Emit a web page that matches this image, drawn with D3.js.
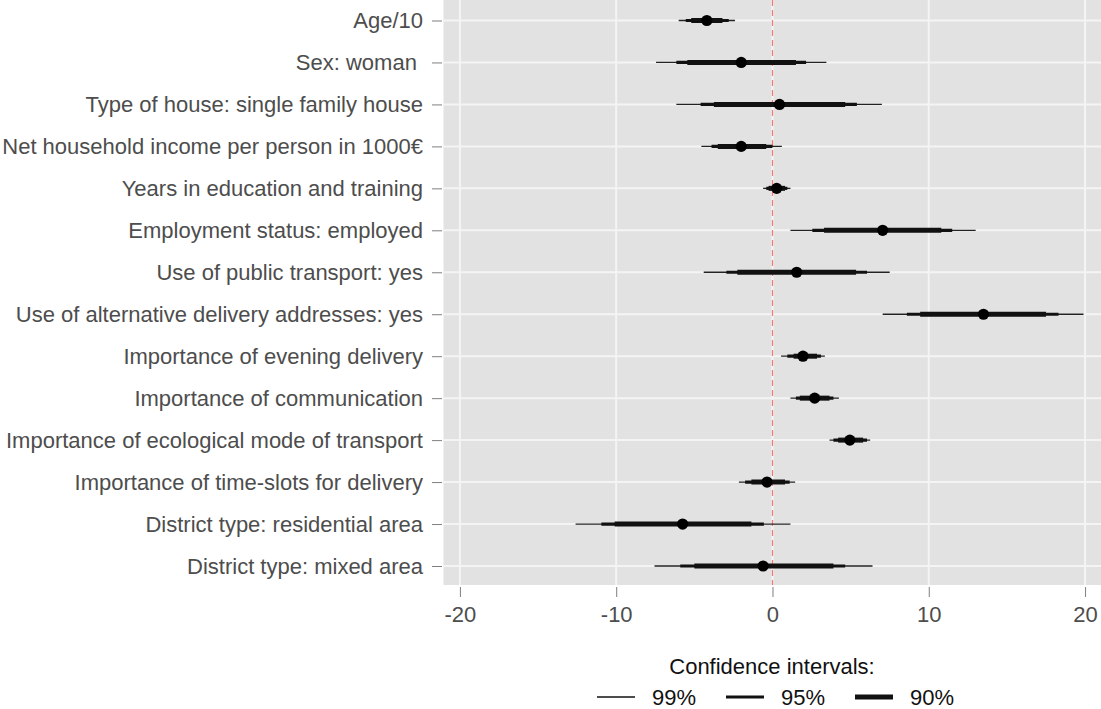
<!DOCTYPE html>
<html>
<head>
<meta charset="utf-8">
<script src="https://cdn.jsdelivr.net/npm/d3@7"></script>
<style>
body { margin: 0; background: white; }
text { font-family: "Liberation Sans", Arial, sans-serif; }
</style>
</head>
<body>
<div id="chart"></div>
<script>
const categories = ["Age/10", "Sex: woman ", "Type of house: single family house", "Net household income per person in 1000\u20ac",
    "Years in education and training", "Employment status: employed", "Use of public transport: yes",
    "Use of alternative delivery addresses: yes", "Importance of evening delivery", "Importance of communication",
    "Importance of ecological mode of transport", "Importance of time-slots for delivery",
    "District type: residential area", "District type: mixed area"]
const estimate = [-4.2, -2.0, 0.45, -2.0, 0.27, 7.05, 1.55, 13.5, 1.95, 2.7, 4.95, -0.35, -5.75, -0.6]
const lo99 = [-6.0, -7.45, -6.15, -4.55, -0.6, 1.15, -4.4, 7.05, 0.55, 1.15, 3.65, -2.15, -12.6, -7.55]
const hi99 = [-2.4, 3.45, 7.0, 0.6, 1.15, 13.0, 7.5, 19.9, 3.35, 4.25, 6.25, 1.45, 1.15, 6.4]
const lo95 = [-5.55, -6.15, -4.6, -3.9, -0.4, 2.55, -2.95, 8.6, 0.95, 1.5, 3.9, -1.75, -10.95, -5.9]
const hi95 = [-2.8, 2.15, 5.4, 0.0, 0.95, 11.5, 6.05, 18.3, 3.1, 3.9, 6.05, 1.1, -0.55, 4.65]
const lo90 = [-5.2, -5.45, -3.75, -3.5, -0.25, 3.3, -2.25, 9.45, 1.35, 1.75, 4.2, -1.35, -10.1, -5.0]
const hi90 = [-3.2, 1.5, 4.65, -0.4, 0.8, 10.8, 5.35, 17.5, 2.85, 3.65, 5.8, 0.8, -1.35, 3.9]
const x_ticks = [-20, -10, 0, 10, 20]
const levels = ["99%", "95%", "90%"]

const WIDTH = 1101, HEIGHT = 709
const PANEL = {left: 443.5, right: 1101, top: 0, bottom: 585}
const FONT = 22
const widths = {"99%": 1.3, "95%": 3.2, "90%": 5}

const rows = categories.map((c, i) => ({
    name: c, est: estimate[i],
    ci: {"99%": [lo99[i], hi99[i]], "95%": [lo95[i], hi95[i]], "90%": [lo90[i], hi90[i]]}
}))

const svg = d3.select("#chart").append("svg").attr("width", WIDTH).attr("height", HEIGHT)

const x_scale = d3.scaleLinear().domain([-21.05, 21.02]).range([PANEL.left, PANEL.right])
const y_scale = d3.scalePoint().domain(categories).range([20.5, 566])

// panel + grid
svg.append("rect").attr("x", PANEL.left).attr("y", PANEL.top)
    .attr("width", PANEL.right - PANEL.left).attr("height", PANEL.bottom - PANEL.top).attr("fill", "#e2e2e2")

const grid = svg.append("g")
grid.selectAll(".vgrid").data(x_ticks).enter().append("line").attr("class", "vgrid")
    .attr("x1", d => x_scale(d)).attr("x2", d => x_scale(d)).attr("y1", PANEL.top).attr("y2", PANEL.bottom)
    .attr("stroke", "#f4f4f4").attr("stroke-width", 2)
grid.selectAll(".hgrid").data(categories).enter().append("line").attr("class", "hgrid")
    .attr("x1", PANEL.left).attr("x2", PANEL.right).attr("y1", d => y_scale(d)).attr("y2", d => y_scale(d))
    .attr("stroke", "#f4f4f4").attr("stroke-width", 2)

// zero reference line
svg.append("line").attr("x1", x_scale(0)).attr("x2", x_scale(0)).attr("y1", PANEL.top).attr("y2", PANEL.bottom)
    .attr("stroke", "#f8766d").attr("stroke-width", 1.2).attr("stroke-dasharray", "6,4")

// intervals
levels.forEach(lev => {
    svg.append("g").selectAll("line").data(rows).enter().append("line")
        .attr("x1", d => x_scale(d.ci[lev][0])).attr("x2", d => x_scale(d.ci[lev][1]))
        .attr("y1", d => y_scale(d.name)).attr("y2", d => y_scale(d.name))
        .attr("stroke", lev == "99%" ? "#222" : "#111").attr("stroke-width", widths[lev])
})
svg.append("g").selectAll("circle").data(rows).enter().append("circle")
    .attr("cx", d => x_scale(d.est)).attr("cy", d => y_scale(d.name)).attr("r", 5.6).attr("fill", "black")

// axes
const gen_y = d3.axisLeft(y_scale).tickSize(10).tickPadding(9)
const y_axis = svg.append("g").attr("transform", "translate(" + (PANEL.left - 1.5) + ",0)").call(gen_y)
y_axis.select(".domain").remove()
y_axis.selectAll("line").attr("stroke", "#7f7f7f")
y_axis.selectAll("text").attr("fill", "#4d4d4d").style("font-size", FONT + "px").style("white-space", "pre")

const gen_x = d3.axisBottom(x_scale).tickValues(x_ticks).tickFormat(d => String(d)).tickSize(10).tickPadding(9)
const x_axis = svg.append("g").attr("transform", "translate(0," + (PANEL.bottom + 2) + ")").call(gen_x)
x_axis.select(".domain").remove()
x_axis.selectAll("line").attr("stroke", "#7f7f7f")
x_axis.selectAll("text").attr("fill", "#4d4d4d").style("font-size", FONT + "px")

// legend
svg.append("text").attr("x", 772).attr("y", 674).attr("text-anchor", "middle")
    .style("font-size", FONT + "px").attr("fill", "#111").text("Confidence intervals:")
const legend = svg.append("g").attr("transform", "translate(597,697)")
levels.forEach((lev, i) => {
    const row = legend.append("g").attr("transform", "translate(" + (i * 129) + ",0)")
    row.append("line").attr("x1", 0).attr("x2", 38).attr("y1", 0).attr("y2", 0)
        .attr("stroke", "#111").attr("stroke-width", widths[lev])
    row.append("text").attr("x", 55).attr("y", 8).style("font-size", FONT + "px").attr("fill", "#111").text(lev)
})
</script>
</body>
</html>
